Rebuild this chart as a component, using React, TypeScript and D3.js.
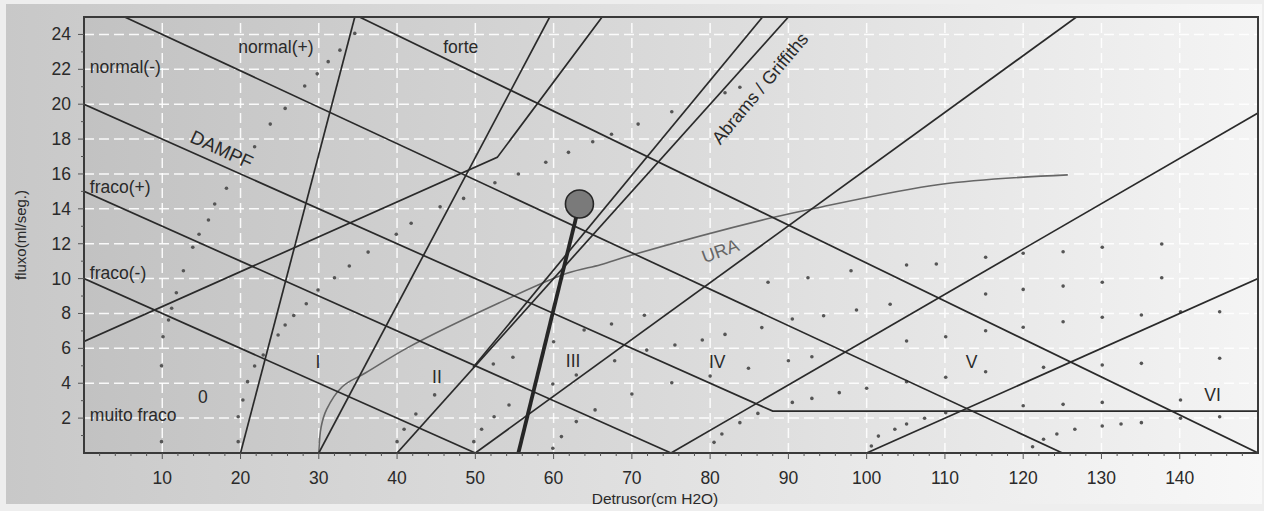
import React from 'react';
import * as d3 from 'd3';

const W = 1264;
const H = 511;

// axis ticks
const xTicks = [10, 20, 30, 40, 50, 60, 70, 80, 90, 100, 110, 120, 130, 140];
const yTicks = [2, 4, 6, 8, 10, 12, 14, 16, 18, 20, 22, 24];

// contractility lines (descending)
const lineMuitoFraco = [[0, 10], [50, 0]];
const lineFracoMinus = [[0, 15], [75, 0]];
const lineFracoPlus = [[0, 20], [88, 2.4], [150, 2.4]];
const lineNormalMinus = [[5.2, 25], [125, 0]];
const lineNormalPlus = [[35.2, 25], [150, 0]];

// obstruction grade lines (ascending)
const lineGrade0 = [[20, 0], [34.6, 25]];
const lineGradeI = [[30, 0], [59.5, 25]];
const lineDampf = [[0, 6.4], [52.8, 16.95], [66.2, 25]];
const lineAG1 = [[40, 0], [90, 25]];
const lineAG2 = [[49.7, 4.9], [86.7, 25]];
const lineGradeIII = [[50, 0], [126.8, 25]];
const lineGradeIV = [[75, 0], [150, 19.5]];
const lineGradeV = [[100, 0], [150, 10]];

// URA curve
const uraCurve = [
  [30, 0], [30.3, 1.5], [31, 2.5], [33, 3.8], [36, 4.6], [41.6, 6.1], [53, 8.6],
  [61.7, 10.3], [66, 10.8], [70, 11.35], [88, 13.5], [93.6, 14.05], [109.3, 15.4], [125.7, 15.95],
];

// patient point and its line
const patientPoint = [63.3, 14.28];
const patientBase = [55.5, 0];

// background dots of the nomogram
const dots = [
  [9.9, 0.65], [9.9, 5.0], [10.1, 6.67], [10.8, 7.63], [11.2, 8.3], [11.8, 9.19], [12.7, 10.45],
  [13.9, 11.8], [14.7, 12.54], [15.9, 13.36], [16.7, 14.28], [18.2, 15.18], [21.8, 17.56],
  [23.8, 18.86], [25.7, 19.76], [28.2, 21.04], [29.8, 21.74], [31.2, 22.44], [32.7, 23.1], [34.6, 24.06],
  [19.7, 0.65], [19.7, 2.08], [20.3, 3.04], [20.9, 4.09], [21.8, 4.99], [22.9, 5.62], [24.8, 6.77],
  [25.7, 7.34], [26.8, 7.88], [28.4, 8.56], [29.9, 9.35], [32, 10.05], [33.9, 10.72], [36.3, 11.52],
  [39.9, 12.54], [41.8, 13.17], [45.5, 14.12], [48.5, 14.6], [52.5, 15.5], [55.5, 16.0], [59, 16.67],
  [61.9, 17.24], [65, 17.85], [67.4, 18.28], [70.8, 18.86], [75.1, 19.57], [81.9, 20.66], [83.8, 20.97],
  [40, 0.65], [40.9, 1.36], [42.4, 2.24], [44.8, 3.33],
  [49.8, 0.65], [50.8, 1.36], [52.4, 2.08], [54.3, 2.75], [52.3, 5.1], [54.8, 5.49],
  [59.9, 0.27], [61, 0.94], [62.9, 1.8], [65.3, 2.47], [59.9, 3.96], [62.9, 4.47], [60, 6.38],
  [63.9, 7.05], [67.4, 7.4], [71.6, 7.9], [67.8, 5.29], [70, 3.38], [71.9, 5.9],
  [75.5, 6.19], [79, 6.48], [81.9, 6.8], [86.6, 7.19], [90.5, 7.68], [94.5, 7.87], [98.7, 8.2], [103, 8.53],
  [87.4, 9.79], [92.5, 10.05], [98, 10.45], [105.1, 10.78], [108.9, 10.84],
  [105.1, 6.42], [110.1, 6.67], [93, 5.52], [90, 5.29], [84.9, 4.86], [80, 4.41], [75.1, 4.03],
  [110.1, 4.34], [105.1, 4.09], [100, 3.71], [96.5, 3.46], [93, 3.13], [90.5, 2.9],
  [86.1, 2.27], [83.8, 1.74], [81.5, 1.09], [80.5, 0.61],
  [100.6, 0.4], [101.5, 0.97], [103.6, 1.36], [105.1, 1.66], [107.4, 1.99], [110.1, 2.31],
  [115.2, 11.22], [120, 11.45], [125.1, 11.54], [130.1, 11.8], [137.7, 11.98],
  [115.2, 9.12], [120, 9.38], [125.1, 9.57], [130.1, 9.79], [137.7, 10.05],
  [115.2, 7.01], [120, 7.21], [125.1, 7.53], [130.1, 7.78], [135.1, 7.91], [140.1, 8.1], [145.1, 8.1],
  [115.2, 4.66], [122.6, 4.91], [130.1, 5.05], [135.1, 5.14], [145.1, 5.43],
  [120, 2.71], [125.1, 2.79], [130.1, 2.9], [140.1, 3.04],
  [121.2, 0.36], [122.6, 0.79], [124.3, 1.09], [126.6, 1.36], [130.1, 1.55], [132.5, 1.66],
  [135.1, 1.74], [140.1, 1.99], [145.1, 2.08],
];

// region labels
const zoneLabels = ['normal(-)', 'normal(+)', 'forte', 'fraco(+)', 'fraco(-)', 'muito fraco'];
const gradeLabels = ['0', 'I', 'II', 'III', 'IV', 'V', 'VI'];

export default function App() {
  const x = d3.scaleLinear().domain([0, 150]).range([84, 1258]);
  const y = d3.scaleLinear().domain([0, 25]).range([453, 17]);
  const line = d3.line<number[]>().x((d) => x(d[0])).y((d) => y(d[1]));
  const curve = d3.line<number[]>().x((d) => x(d[0])).y((d) => y(d[1])).curve(d3.curveCatmullRom.alpha(0.5));

  const [x0, x1] = x.range();
  const [y0, y1] = y.range();

  const straight = [
    lineMuitoFraco, lineFracoMinus, lineFracoPlus, lineNormalMinus, lineNormalPlus,
    lineGrade0, lineGradeI, lineDampf, lineAG1, lineAG2, lineGradeIII, lineGradeIV, lineGradeV,
  ];

  const zonePos = [
    [0.75, 22.15], [19.7, 23.3], [45.9, 23.3], [0.75, 15.25], [0.75, 10.3], [0.75, 2.18],
  ];
  const gradePos = [
    [15.2, 3.2], [29.9, 5.2], [45.1, 4.35], [62.5, 5.27], [80.9, 5.22], [113.4, 5.22], [144.2, 3.33],
  ];

  const xMinor = d3.range(2, 150, 2);
  const yMinor = d3.range(1, 25, 1);
  const font = 'Liberation Sans, Arial, sans-serif';

  return (
    <svg width={W} height={H} style={{ position: 'absolute', left: 0, top: 0 }} fontFamily={font}>
      <defs>
        <linearGradient id="panelG" x1="0" x2="1" y1="0" y2="0">
          <stop offset="0%" stopColor="#c8c8c8" />
          <stop offset="100%" stopColor="#f8f8f8" />
        </linearGradient>
        <linearGradient id="plotG" x1="0" x2="1" y1="0" y2="0">
          <stop offset="0%" stopColor="#c2c2c2" />
          <stop offset="50%" stopColor="#dadada" />
          <stop offset="100%" stopColor="#f4f4f4" />
        </linearGradient>
        <clipPath id="plotClip">
          <rect x={x0} y={y1} width={x1 - x0} height={y0 - y1} />
        </clipPath>
      </defs>
      <rect x={0} y={0} width={W} height={H} fill="#eeeeee" />
      <rect x={6} y={4} width={W - 8} height={500} fill="url(#panelG)" />
      <rect x={x0} y={y1} width={x1 - x0} height={y0 - y1} fill="url(#plotG)" />

      {/* grid */}
      <g stroke="#ffffff" strokeOpacity={0.9} strokeWidth={1.5} strokeDasharray="10,5">
        {xTicks.map((t) => (
          <line key={'gx' + t} x1={x(t)} x2={x(t)} y1={y0} y2={y1} />
        ))}
        {yTicks.map((t) => (
          <line key={'gy' + t} x1={x0} x2={x1} y1={y(t)} y2={y(t)} />
        ))}
      </g>

      <g clipPath="url(#plotClip)">
        {/* dots */}
        <g fill="#555555">
          {dots.map((d, i) => (
            <circle key={'d' + i} cx={x(d[0])} cy={y(d[1])} r={1.8} />
          ))}
        </g>
        {/* URA curve */}
        <path d={curve(uraCurve) || ''} fill="none" stroke="#666666" strokeWidth={1.6} />
        {/* nomogram lines */}
        <g fill="none" stroke="#2a2a2a" strokeWidth={1.7}>
          {straight.map((l, i) => (
            <path key={'l' + i} d={line(l) || ''} />
          ))}
        </g>
        {/* patient line */}
        <line
          x1={x(patientBase[0])} y1={y(patientBase[1])}
          x2={x(patientPoint[0])} y2={y(patientPoint[1])}
          stroke="#262626" strokeWidth={3.8}
        />
        <circle cx={x(patientPoint[0])} cy={y(patientPoint[1])} r={14} fill="#7a7a7a" stroke="#262626" strokeWidth={1.6} />
      </g>

      {/* axes frame */}
      <rect x={x0} y={y1} width={x1 - x0} height={y0 - y1} fill="none" stroke="#3a3a3a" strokeWidth={2} />

      {/* ticks */}
      <g stroke="#555" strokeWidth={1}>
        {xMinor.map((t) => (
          <line key={'xm' + t} x1={x(t)} x2={x(t)} y1={y0} y2={y0 + (t % 10 === 0 ? 6 : 3)} />
        ))}
        {yMinor.map((t) => (
          <line key={'ym' + t} x1={x0} x2={x0 - (t % 2 === 0 ? 6 : 3)} y1={y(t)} y2={y(t)} />
        ))}
      </g>
      <g fontSize={17.5} fill="#2a2a2a">
        {xTicks.map((t) => (
          <text key={'xl' + t} x={x(t)} y={484} textAnchor="middle">{t}</text>
        ))}
        {yTicks.map((t) => (
          <text key={'yl' + t} x={71} y={y(t)} textAnchor="end" dominantBaseline="central">{t}</text>
        ))}
      </g>

      {/* axis titles */}
      <text x={655} y={504} textAnchor="middle" fontSize={15.5} fill="#2a2a2a">Detrusor(cm H2O)</text>
      <text
        transform={`translate(20,${235}) rotate(-90)`}
        textAnchor="middle" dominantBaseline="central" fontSize={15} fill="#2a2a2a"
      >
        fluxo(ml/seg.)
      </text>

      {/* zone labels */}
      <g fontSize={17.5} fill="#2a2a2a">
        {zoneLabels.map((s, i) => (
          <text key={'z' + i} x={x(zonePos[i][0])} y={y(zonePos[i][1])} dominantBaseline="central">{s}</text>
        ))}
        {gradeLabels.map((s, i) => (
          <text key={'g' + i} x={x(gradePos[i][0])} y={y(gradePos[i][1])} textAnchor="middle" dominantBaseline="central">{s}</text>
        ))}
        <text transform={`translate(${x(17.6)},${y(17.4)}) rotate(25)`} textAnchor="middle" dominantBaseline="central" fontSize={19}>DAMPF</text>
        <text transform={`translate(${x(86.4)},${y(20.9)}) rotate(-50)`} textAnchor="middle" dominantBaseline="central" fontSize={18}>Abrams / Griffiths</text>
        <text transform={`translate(${x(81.3)},${y(11.58)}) rotate(-20)`} textAnchor="middle" dominantBaseline="central" fill="#666666" fontSize={18}>URA</text>
      </g>
    </svg>
  );
}
